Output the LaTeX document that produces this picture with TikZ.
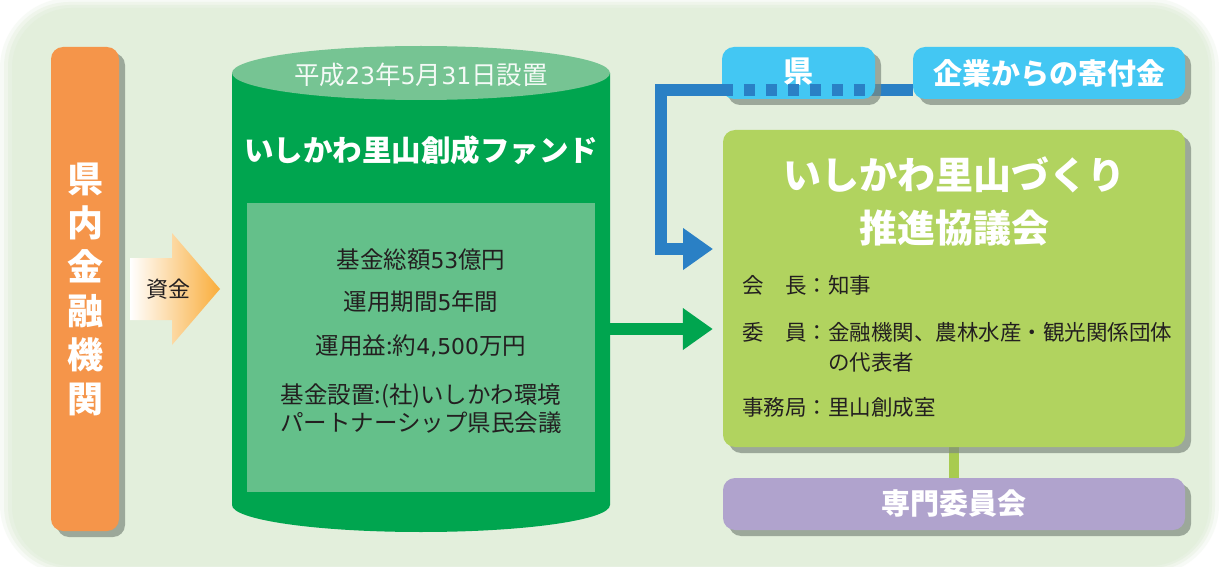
\documentclass[tikz,border=0pt]{standalone}
\usepackage{fontspec}
\newfontfamily\jp{Noto Sans CJK JP}
\newfontfamily\dig{DejaVu Sans}[Scale=0.93]
\newcommand{\dg}[1]{{\dig #1}}
\usetikzlibrary{shadows,arrows.meta}
\definecolor{bgc}{HTML}{E3EFDC}
\definecolor{orangebox}{HTML}{F5954A}
\definecolor{shadowc}{HTML}{7E8A7F}
\definecolor{fundg}{HTML}{00A54F}
\definecolor{fundtop}{HTML}{76C493}
\definecolor{fundin}{HTML}{64C08A}
\definecolor{darktext}{HTML}{231F20}
\definecolor{blueline}{HTML}{2A80C5}
\definecolor{skyc}{HTML}{43C7F3}
\definecolor{councilc}{HTML}{B1D35F}
\definecolor{purplec}{HTML}{B0A3CD}
\definecolor{linkc}{HTML}{A8CB50}
\definecolor{arroworange}{HTML}{F9AD3B}
\pgfdeclarelayer{back}
\pgfdeclarelayer{mid}
\pgfsetlayers{back,mid,main}
\begin{document}
\begin{tikzpicture}[x=1pt,y=-1pt,
  box/.style={rounded corners=12pt, draw=none, inner sep=0pt,
    drop shadow={shadow xshift=6pt, shadow yshift=-6pt, fill=shadowc, opacity=0.7}},
  whitebold/.style={text=white, font=\jp\bfseries\fontsize{#1}{#1}\selectfont},
  bodytxt/.style={text=darktext, inner sep=0pt, font=\jp\fontsize{#1}{#1}\selectfont},
  fundtxt/.style={text=darktext, inner sep=0pt, align=center, font=\jp\fontsize{23.5}{28}\selectfont},
  counciltxt/.style={text=darktext, inner sep=0pt, anchor=west, align=left, font=\jp\fontsize{21.5}{30}\selectfont},
  bconn/.style={draw=blueline, line width=12pt, -{Triangle[length=30pt,width=40pt]}},
  garrow/.style={draw=fundg, line width=12pt, -{Triangle[length=30pt,width=40pt]}},
]
\useasboundingbox (0,0) rectangle (1219,567);
\begin{pgfonlayer}{back}
  \fill[white] (0,0) rectangle (1219,567);
  \fill[bgc, opacity=0.25, rounded corners=70pt] (0,-2) rectangle (1219,575);
  \fill[bgc, opacity=0.4, rounded corners=65pt] (4,2) rectangle (1215,571);
  \fill[bgc, opacity=0.6, rounded corners=62pt] (8,5) rectangle (1212,568);
  \fill[bgc, rounded corners=60pt] (12,8) rectangle (1209,566);
\end{pgfonlayer}

% left column
\node[box, fill=orangebox, minimum width=68pt, minimum height=484pt] (bank) at (85,289) {};
\node[text=white, inner sep=0pt, align=center, font=\jp\bfseries\fontsize{36}{44}\selectfont] (banktxt) at (85,289) {県\\内\\金\\融\\機\\関};

% shikin arrow
\shade[left color=white, right color=arroworange]
  (130,258) -- (172,258) -- (172,233) -- (220,289) -- (172,345) -- (172,320) -- (130,320) -- cycle;
\node[bodytxt=22] (shikin) at (168,289) {資金};

% fund cylinder
\fill[fundg] (232,73) -- (232,505) arc[start angle=180, end angle=360, x radius=189pt, y radius=27pt] -- (610,73) -- cycle;
\fill[fundtop] (421,73) ellipse [x radius=189pt, y radius=27pt];
\node[minimum width=378pt, minimum height=485pt, inner sep=0pt] (fund) at (421,289) {};
\node[text=white!92!fundtop, inner sep=0pt, font=\jp\fontsize{25.5}{25.5}\selectfont] (funddate) at (421,75) {平成\dg{23}年\dg{5}月\dg{31}日設置};
\node[whitebold=29.5, inner sep=0pt] (fundtitle) at (421,150) {いしかわ里山創成ファンド};
\node[fill=fundin, minimum width=348pt, minimum height=289pt, inner sep=0pt] (fundinner) at (421,347.5) {};
\node[fundtxt] (f1) at (421,260) {基金総額\dg{53}億円};
\node[fundtxt] (f2) at (421,302) {運用期間\dg{5}年間};
\node[fundtxt] (f3) at (421,346) {運用益:約\dg{4,500}万円};
\node[fundtxt] (f4) at (421,409) {基金設置:(社)いしかわ環境\\パートナーシップ県民会議};

% right column
\node[box, fill=skyc, minimum width=153pt, minimum height=52pt] (ken) at (798.5,73) {};
\node[whitebold=30, inner sep=0pt] (kentxt) at (798.5,72) {県};
\node[box, fill=skyc, minimum width=272pt, minimum height=52pt, whitebold=29] (kigyo) at (1049,73) {企業からの寄付金};
\node[box, fill=councilc, minimum width=462pt, minimum height=317pt] (council) at (954,288.5) {};
\node[text=white, align=center, font=\jp\bfseries\fontsize{38}{53}\selectfont, inner sep=0pt] (counciltitle) at (954,201.5) {いしかわ里山づくり\\推進協議会};
\node[counciltxt] (r1) at (742,285) {会　長：知事};
\node[counciltxt] (r2) at (742,347) {委　員：金融機関、農林水産・観光関係団体\\\phantom{委　員：}の代表者};
\node[counciltxt] (r3) at (742,407) {事務局：里山創成室};
\node[box, fill=purplec, minimum width=462pt, minimum height=52pt, whitebold=29] (senmon) at (954,504) {専門委員会};

% connectors
\coordinate (bcorner) at (661,90);
\coordinate (btip) at (713,249);
\coordinate (gy) at (0,329);
\begin{pgfonlayer}{mid}
  \draw[bconn] (kigyo.west |- bcorner) -- (bcorner) |- (btip);
  \draw[linkc, line width=10pt] (council.south) -- (senmon.north);
\end{pgfonlayer}
\draw[draw=blueline, line width=12pt, dash pattern=on 11pt off 11pt] (ken.west |- bcorner) -- (ken.east |- bcorner);
\draw[garrow] (fund.east |- gy) -- ([xshift=-10pt]council.west |- gy);
\end{tikzpicture}
\end{document}
